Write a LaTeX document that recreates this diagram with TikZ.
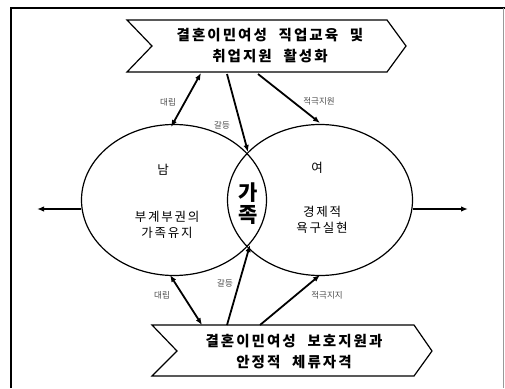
\documentclass[tikz,border=0pt]{standalone}
\usepackage{fontspec}
\setmainfont{Noto Sans CJK KR}
\newfontfamily\kr{Noto Sans CJK KR}
\newfontfamily\krs[LetterSpace=14,WordSpace=2.2]{Noto Sans CJK KR}
\usetikzlibrary{arrows.meta,shapes.geometric}
\begin{document}
\begin{tikzpicture}[x=1pt,y=-1pt,
  chev/.style={draw,line width=1.2pt,line join=miter},
  oval/.style={draw,ellipse,line width=1.2pt,minimum width=185pt,minimum height=151pt,inner sep=0pt},
  arr/.style={line width=1.8pt,-{Latex[length=7pt,width=5.5pt]}},
  darr/.style={line width=1.8pt,{Latex[length=7pt,width=5.5pt]}-{Latex[length=7pt,width=5.5pt]}},
  big/.style={font=\krs\fontsize{14.5}{21}\selectfont\bfseries,align=center,inner sep=0pt},
  mid/.style={font=\krs\fontsize{12.5}{16}\selectfont,align=center,inner sep=0pt},
  small/.style={font=\kr\fontsize{8.5}{9}\selectfont,text=black!70,inner sep=0pt}]
\useasboundingbox (0,0) rectangle (505,388);
% frame
\draw[line width=1.8pt] (11,388) -- (11,8) -- (505,8);
\draw[line width=0.6pt,black!40] (503,8) -- (503,388);
% chevrons
\draw[chev] (127,20) -- (387,20) -- (406,46) -- (387,72) -- (127,72) -- (152,46) -- cycle;
\node[big] (top) at (270,46) {결혼이민여성 직업교육 및\\취업지원 활성화};
\draw[chev] (152,325) -- (414,325) -- (432,351) -- (414,376) -- (152,376) -- (177,351) -- cycle;
\node[big] (bot) at (294,352) {결혼이민여성 보호지원과\\안정적 체류자격};
% ellipses
\node[oval] (L) at (174,200) {};
\node[oval] (R) at (320,200) {};
% texts
\node[mid] (nam) at (163,170) {남};
\node[mid] (nt) at (167,225) {부계부권의\\가족유지};
\node[mid] (yeo) at (317,168) {여};
\node[mid] (yt) at (322,220) {경제적\\욕구실현};
\node[font=\kr\fontsize{21}{22}\selectfont\bfseries,align=center,inner sep=0pt] (fam) at (248,204) {가\\족};
% side arrows
\coordinate (lo) at (37,209);
\coordinate (ro) at (468,209);
\draw[arr] (L.west) ++(0,9) -- (lo);
\draw[arr] (R.east) ++(0,9) -- (ro);
% top arrows
\coordinate (t1) at (201,73);
\coordinate (t1e) at (171,127);
\coordinate (t2) at (227,74);
\coordinate (t2e) at (248,152);
\coordinate (t3) at (258,74);
\coordinate (t3e) at (320,123);
\draw[darr] (t1e) -- (t1);
\draw[arr] (t2) -- (t2e);
\draw[arr] (t3) -- (t3e);
\node[small] (l1) at (168,102) {대립};
\node[small] (l2) at (222,125) {갈등};
\node[small] (l3) at (319,101) {적극지원};
% bottom arrows
\coordinate (b1) at (202,325);
\coordinate (b1e) at (170,275);
\coordinate (b2) at (227,325);
\coordinate (b2e) at (250,245);
\coordinate (b3) at (260,325);
\coordinate (b3e) at (320,275);
\draw[darr] (b1e) -- (b1);
\draw[arr] (b2) -- (b2e);
\draw[arr] (b3) -- (b3e);
\node[small] (l4) at (162,295) {대립};
\node[small] (l5) at (225,283) {갈등};
\node[small] (l6) at (327,295) {적극지지};
\end{tikzpicture}
\end{document}
